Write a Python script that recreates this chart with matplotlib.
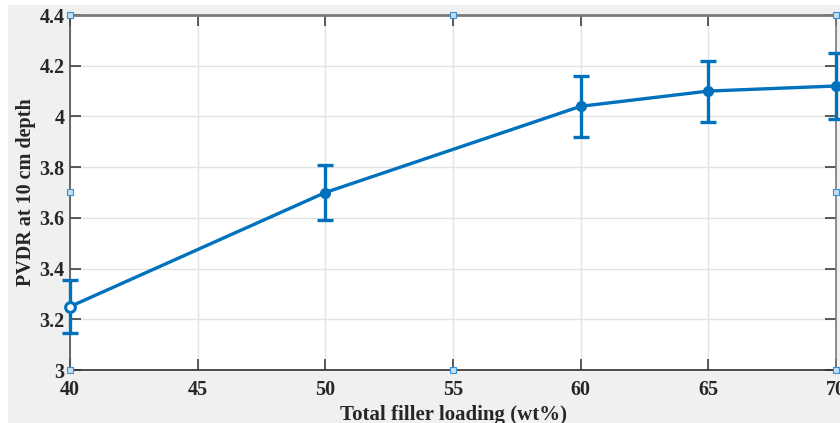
import matplotlib.pyplot as plt
from matplotlib.patches import Rectangle

# data
loading = [40, 50, 60, 65, 70]
pvdr = [3.25, 3.70, 4.04, 4.10, 4.12]
pvdr_err = [0.105, 0.11, 0.12, 0.12, 0.13]

xticks = [40, 45, 50, 55, 60, 65, 70]
yticks = [3, 3.2, 3.4, 3.6, 3.8, 4, 4.2, 4.4]
yticklabels = ['3', '3.2', '3.4', '3.6', '3.8', '4', '4.2', '4.4']

plt.rcParams['font.family'] = ['Liberation Serif', 'DejaVu Serif']
plt.rcParams['font.weight'] = 'bold'

fig = plt.figure(figsize=(8.4, 4.23), dpi=100, facecolor='white')
# MATLAB figure grey
fig.patches.append(Rectangle((8 / 840, 0), 1, 1 - 5 / 423, transform=fig.transFigure,
                             facecolor='#f0f0f0', edgecolor='none', zorder=-5))

ax = fig.add_axes([70 / 840, 53 / 423, 766 / 840, 355 / 423])
ax.set_zorder(2)
ax.set_facecolor('white')

blue = '#0072BD'
ax.errorbar(loading, pvdr, yerr=pvdr_err, color=blue, lw=2.4, elinewidth=2.4,
            capsize=5.5, capthick=2.4, marker='o', ms=7, mfc=blue, mec=blue,
            clip_on=False, zorder=3)
# first marker looks hollow in the reference
ax.plot(loading[:1], pvdr[:1], 'o', ms=7, mfc='white', mec=blue, mew=2.2,
        clip_on=False, zorder=4)

ax.set_xlim(40, 70)
ax.set_ylim(3, 4.4)
ax.set_xticks(xticks)
ax.set_yticks(yticks)
ax.set_yticklabels(yticklabels)
ax.grid(True, color='#e3e3e3', lw=1)
ax.set_axisbelow(True)
ax.tick_params(direction='in', length=8, width=1.2, color='#404040',
               top=True, right=True, labelsize=14.5, labelcolor='#262626')
ax.tick_params(axis='x', pad=7)
ax.tick_params(axis='y', pad=4)
for lab in ax.get_xticklabels() + ax.get_yticklabels():
    lab.set_fontweight('bold')
for s in ax.spines.values():
    s.set_color('#7a7a7a')
    s.set_linewidth(1.2)
ax.spines['top'].set_linewidth(2)
ax.spines['left'].set_color('#505050')
ax.spines['bottom'].set_color('#303030')

ax.set_xlabel('Total filler loading (wt%)', fontsize=15, fontweight='bold',
              color='#262626', labelpad=4)
ax.set_ylabel('PVDR at 10 cm depth', fontsize=14.5, fontweight='bold',
              color='#262626', labelpad=2.5)

# selection handles
hx = [0, 0.5, 1, 0, 0.5, 1, 0, 1]
hy = [1, 1, 1, 0, 0, 0, 0.5, 0.5]
ax.plot(hx, hy, 's', ms=4, mfc='#bfe0f7', mec='#3a8fd0', mew=0.8,
        transform=ax.transAxes, clip_on=False, zorder=5)

fig.savefig('out.png', dpi=100)
